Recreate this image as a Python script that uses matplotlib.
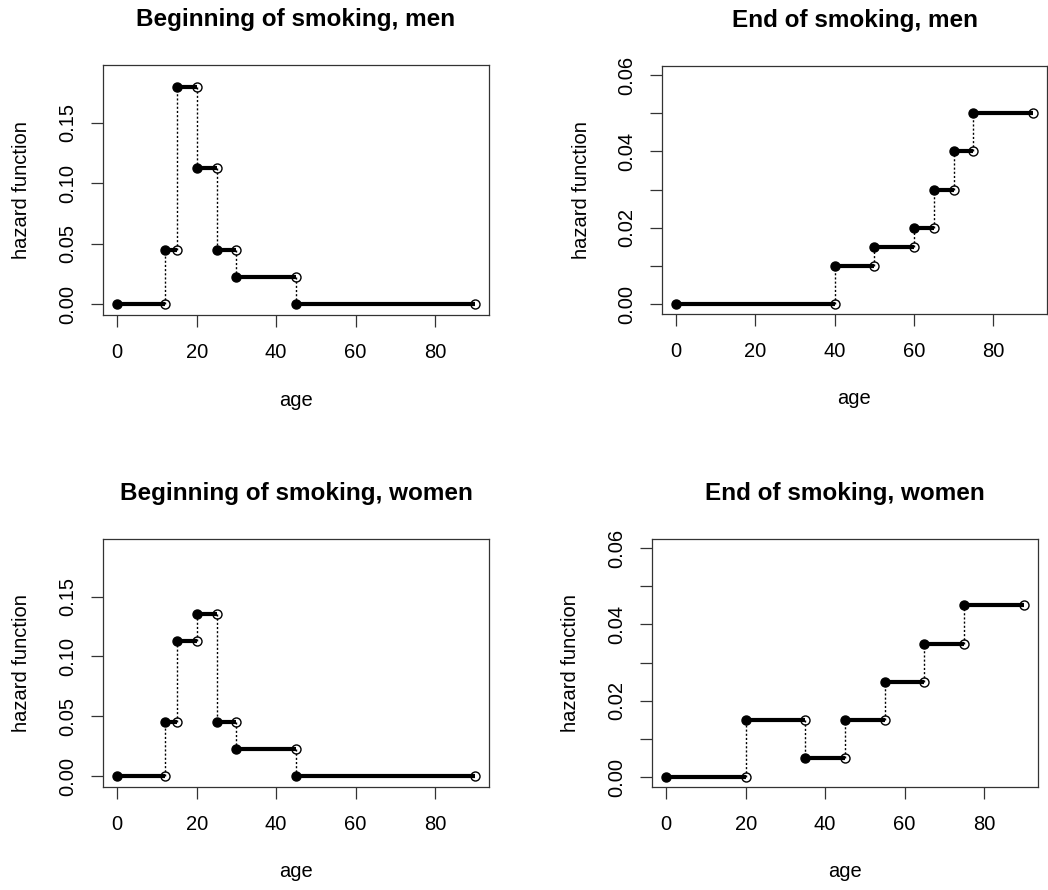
import matplotlib
matplotlib.use('Agg')
import matplotlib.pyplot as plt

plt.rcParams['font.family'] = ['Liberation Sans', 'DejaVu Sans']

# step function data: age break points and hazard level on each interval
ages_begin = [0, 12, 15, 20, 25, 30, 45, 90]
haz_begin_men = [0, 0.045, 0.18, 0.1125, 0.045, 0.0225, 0]
haz_begin_women = [0, 0.045, 0.1125, 0.135, 0.045, 0.0225, 0]

ages_end_men = [0, 40, 50, 60, 65, 70, 75, 90]
haz_end_men = [0, 0.01, 0.015, 0.02, 0.03, 0.04, 0.05]

ages_end_women = [0, 20, 35, 45, 55, 65, 75, 90]
haz_end_women = [0, 0.015, 0.005, 0.015, 0.025, 0.035, 0.045]

x_ticks = [0, 20, 40, 60, 80]
begin_yticks = [0, 0.05, 0.10, 0.15]
begin_ylabels = ['0.00', '0.05', '0.10', '0.15']
end_yticks = [0, 0.01, 0.02, 0.03, 0.04, 0.05, 0.06]
end_ylabels = ['0.00', '', '0.02', '', '0.04', '', '0.06']

W, H = 1048, 890
fig = plt.figure(figsize=(W / 100, H / 100), dpi=100)


def make_axes(left, top, right, bottom):
    return fig.add_axes([left / W, 1 - bottom / H, (right - left) / W, (bottom - top) / H])


def step_plot(ax, ages, haz, title, yticks, ylabels, ylim):
    for i in range(len(haz)):
        ax.plot([ages[i], ages[i + 1]], [haz[i], haz[i]], color='black', lw=3,
                solid_capstyle='butt', zorder=2)
        if i > 0:
            ax.plot([ages[i], ages[i]], [haz[i - 1], haz[i]], color='black', lw=1.0,
                    linestyle=(0, (1.5, 1.5)), zorder=1)
        ax.plot(ages[i], haz[i], 'o', color='black', ms=6.5, zorder=3)
        ax.plot(ages[i + 1], haz[i], 'o', mfc='none', mec='black', mew=1.0, ms=6.5, zorder=3)

    ax.set_xlim(-3.6, 93.6)
    ax.set_ylim(*ylim)
    ax.set_xticks(x_ticks)
    ax.set_yticks(yticks)
    ax.set_yticklabels(ylabels)
    ax.tick_params(axis='both', direction='out', length=8.5, width=0.9, color='#333333',
                   labelsize=14.5, pad=12)
    ax.tick_params(axis='y', labelrotation=90, pad=10)
    for lab in ax.get_yticklabels():
        lab.set_verticalalignment('center')
    for sp in ax.spines.values():
        sp.set_color('#333333')
        sp.set_linewidth(0.9)

    ax.set_title(title, fontsize=17.5, fontweight='bold', pad=28)
    ax.set_xlabel('age', fontsize=14.5, va='center')
    ax.xaxis.set_label_coords(0.5, -0.34)
    ax.set_ylabel('hazard function', fontsize=14.5, va='center')
    ax.yaxis.set_label_coords(-0.21, 0.5)


begin_ylim = (-0.009, 0.198)
end_ylim = (-0.0026, 0.0624)

ax1 = make_axes(103, 65, 489, 315)
step_plot(ax1, ages_begin, haz_begin_men, 'Beginning of smoking, men',
          begin_yticks, begin_ylabels, begin_ylim)

ax2 = make_axes(662, 66, 1047, 314)
step_plot(ax2, ages_end_men, haz_end_men, 'End of smoking, men',
          end_yticks, end_ylabels, end_ylim)

ax3 = make_axes(103, 539, 489, 787)
step_plot(ax3, ages_begin, haz_begin_women, 'Beginning of smoking, women',
          begin_yticks, begin_ylabels, begin_ylim)

ax4 = make_axes(652, 539, 1038, 787)
step_plot(ax4, ages_end_women, haz_end_women, 'End of smoking, women',
          end_yticks, end_ylabels, end_ylim)

fig.savefig('out.png', dpi=100)
